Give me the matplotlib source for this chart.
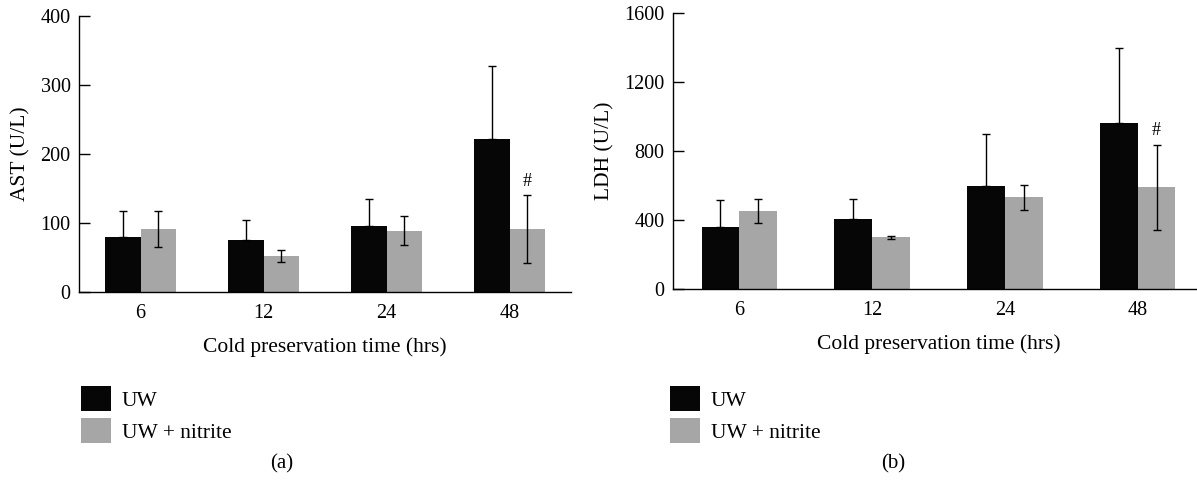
import matplotlib
matplotlib.use("Agg")
import matplotlib.pyplot as plt
import numpy as np

plt.rcParams['font.family'] = ['Liberation Serif', 'DejaVu Serif']

# Cold preservation times (hours)
hours = ["6", "12", "24", "48"]
series_names = ["UW", "UW + nitrite"]

# AST (U/L): means and errors
ast_uw = [80, 76, 96, 222]
ast_uw_err = [38, 28, 39, 106]
ast_nitrite = [91, 52, 89, 91]
ast_nitrite_err = [26, 8.5, 21, 49]

# LDH (U/L): means and errors
ldh_uw = [360, 405, 599, 963]
ldh_uw_err = [157, 116, 298, 434]
ldh_nitrite = [452, 298, 531, 589]
ldh_nitrite_err = [69, 9, 72, 247]

ast_ticks = [0, 100, 200, 300, 400]
ldh_ticks = [0, 400, 800, 1200, 1600]

UW_COLOR = "#060606"
NITRITE_COLOR = "#a6a6a6"
TICK_FS = 14.5
LABEL_FS = 15.5

W, H = 1197, 484
fig = plt.figure(figsize=(W / 100, H / 100), dpi=100)


def panel(rect, uw, uw_err, nit, nit_err, ticks, ylabel, mark_idx):
    ax = fig.add_axes(rect)
    x = np.arange(len(hours))
    w = 0.285
    b1 = ax.bar(x - w / 2, uw, w, color=UW_COLOR, edgecolor="none", zorder=2)
    b2 = ax.bar(x + w / 2, nit, w, color=NITRITE_COLOR, edgecolor="none", zorder=2)
    ekw = dict(fmt="none", ecolor="black", elinewidth=1.0, capsize=2.8, capthick=1.0, zorder=3)
    ax.errorbar(x - w / 2, uw, yerr=[np.zeros(len(uw)), uw_err], **ekw)
    ax.errorbar(x + w / 2, nit, yerr=nit_err, **ekw)
    # significance marker above the nitrite error bar
    top = nit[mark_idx] + nit_err[mark_idx]
    ax.annotate("#", xy=(x[mark_idx] + w / 2, top), xytext=(0, 10),
                textcoords="offset points", ha="center", va="center", fontsize=13)
    ax.set_xlim(-0.5, 3.5)
    ax.set_ylim(ticks[0], ticks[-1])
    ax.set_yticks(ticks)
    ax.set_xticks(x)
    ax.set_xticklabels(hours)
    for s in ("top", "right"):
        ax.spines[s].set_visible(False)
    for s in ("left", "bottom"):
        ax.spines[s].set_linewidth(1.0)
    ax.tick_params(axis="y", direction="in", length=8, width=1.0, pad=6, labelsize=TICK_FS)
    ax.tick_params(axis="x", length=0, pad=9, labelsize=TICK_FS)
    ax.set_xlabel("Cold preservation time (hrs)", fontsize=LABEL_FS, labelpad=10)
    ax.set_ylabel(ylabel, fontsize=LABEL_FS, labelpad=7)
    return ax, b1, b2


ax1, a1, a2 = panel([79 / W, 1 - 292 / H, 492 / W, 276 / H],
                    ast_uw, ast_uw_err, ast_nitrite, ast_nitrite_err,
                    ast_ticks, "AST (U/L)", 3)
ax2, c1, c2 = panel([673 / W, 1 - 288.7 / H, 531 / W, 275.3 / H],
                    ldh_uw, ldh_uw_err, ldh_nitrite, ldh_nitrite_err,
                    ldh_ticks, "LDH (U/L)", 3)

fs_px = LABEL_FS * 100 / 72
# legend swatches: 30 x 25 px
hh = (25 / fs_px - 0.245) / 0.65
legend_kw = dict(loc="upper left", frameon=False, fontsize=LABEL_FS,
                 handlelength=30 / fs_px, handleheight=hh,
                 handletextpad=11 / fs_px, labelspacing=7.3 / fs_px,
                 borderpad=0, borderaxespad=0)
fig.legend([a1, a2], series_names, bbox_to_anchor=(80.5 / W, 1 - 386 / H),
           bbox_transform=fig.transFigure, **legend_kw)
fig.legend([c1, c2], series_names, bbox_to_anchor=(670 / W, 1 - 386 / H),
           bbox_transform=fig.transFigure, **legend_kw)

fig.text(282 / W, 1 - 464 / H, "(a)", ha="center", va="center", fontsize=15)
fig.text(893 / W, 1 - 464 / H, "(b)", ha="center", va="center", fontsize=15)

fig.savefig("out.png", dpi=100)
